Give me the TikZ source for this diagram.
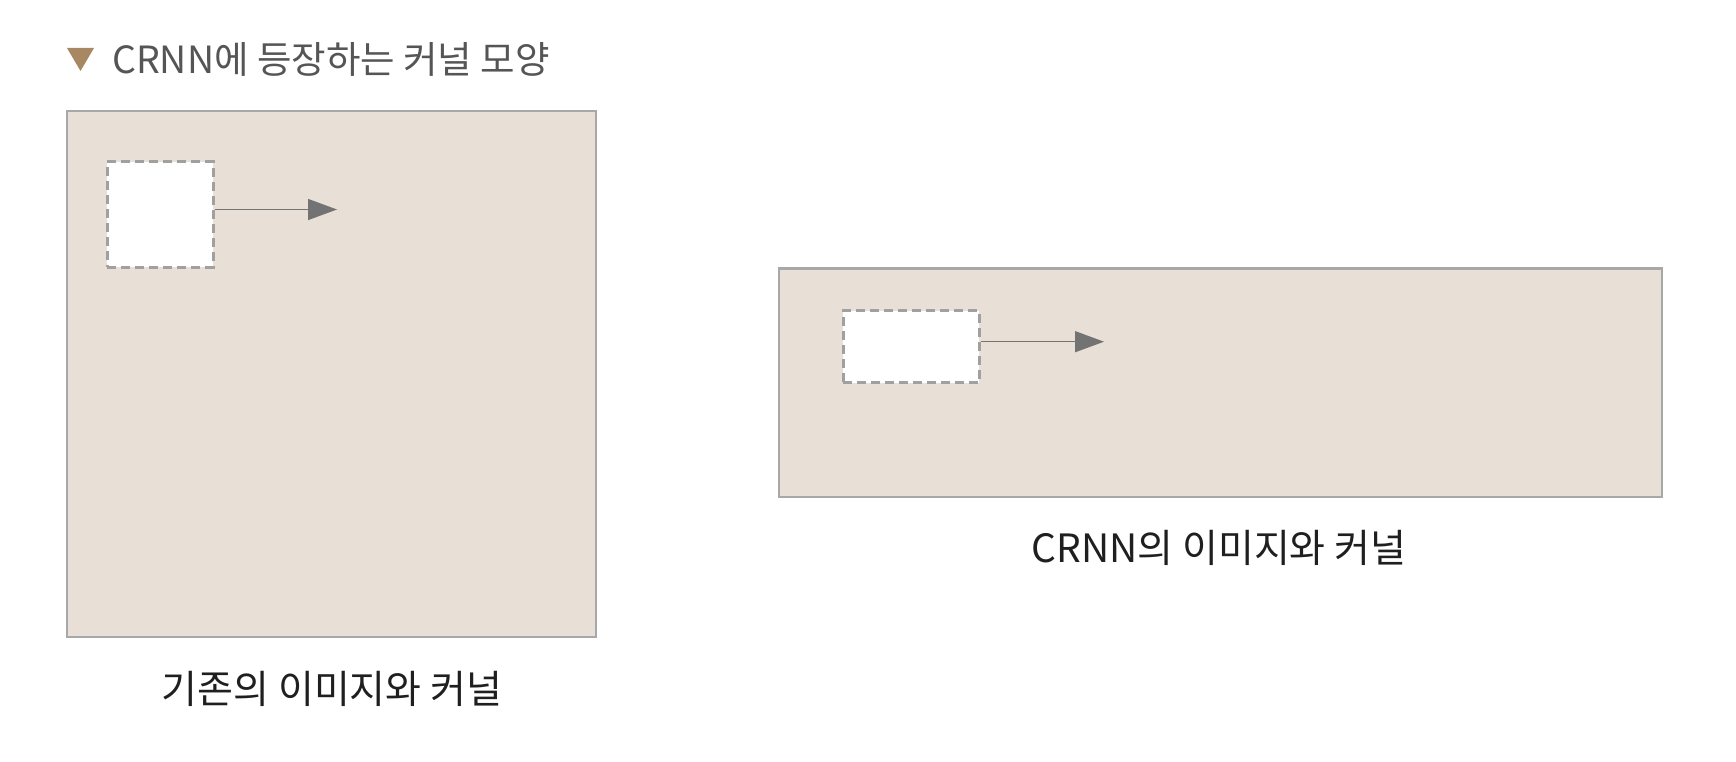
\documentclass[tikz,border=0pt]{standalone}
\usepackage{fontspec}
\newfontfamily\kr{Noto Sans CJK KR}
\usetikzlibrary{arrows.meta}
\definecolor{imgfill}{HTML}{E8E0D6}
\definecolor{imgdraw}{HTML}{A8A8A8}
\definecolor{kerndraw}{HTML}{A0A0A0}
\definecolor{arrowcol}{HTML}{737373}
\definecolor{tricol}{HTML}{A88862}
\definecolor{titlecol}{HTML}{555555}
\tikzset{
  imagebox/.style={fill=imgfill, draw=imgdraw, line width=2.6pt},
  kernelbox/.style={fill=white, draw=kerndraw, line width=3pt, dash pattern=on 9pt off 5pt},
  slide/.style={draw=arrowcol, line width=1.4pt, -{Triangle[length=29pt,width=21pt]}},
  caption/.style={font=\kr\fontsize{39}{44}\selectfont, text=black!88, inner sep=0pt},
}
\begin{document}
\begin{tikzpicture}[x=1pt,y=-1pt]
\useasboundingbox (0,0) rectangle (1736,762);
% title
\fill[tricol] (67,48) -- (94,48) -- (80.5,71) -- cycle;
\node[anchor=west, inner sep=0pt, text=titlecol, font=\kr\fontsize{37.5}{42}\selectfont] (title) at (112,59) {CRNN에 등장하는 커널 모양};
% left image
\draw[imagebox] (67,111) rectangle (596,637);
\node[kernelbox, minimum width=106pt, minimum height=105pt, inner sep=0pt] (k1) at (160,214.5) {};
\coordinate (t1) at (337,209.5);
\draw[slide] (k1.east |- t1) -- (t1);
\node[caption] (c1) at (332,689) {기존의 이미지와 커널};
% right image
\draw[imagebox] (779,268.5) rectangle (1662,497);
\node[kernelbox, minimum width=136pt, minimum height=72pt, inner sep=0pt] (k2) at (911.3,346.7) {};
\coordinate (t2) at (1104,341.7);
\draw[slide] (k2.east |- t2) -- (t2);
\node[caption] (c2) at (1219,548) {CRNN의 이미지와 커널};
\end{tikzpicture}
\end{document}
